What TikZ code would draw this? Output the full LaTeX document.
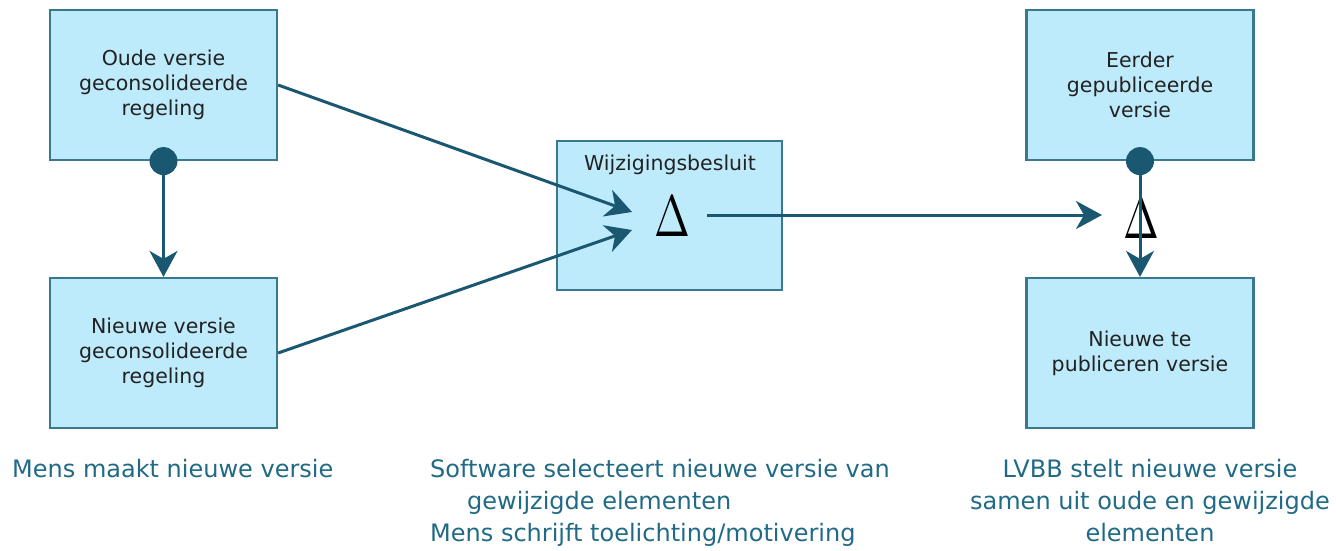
\documentclass[tikz,border=0pt]{standalone}
\usepackage{fontspec}
\usepackage{graphicx}
\setmainfont{DejaVu Sans}
\usetikzlibrary{arrows.meta}
\definecolor{boxfill}{HTML}{BEEBFB}
\definecolor{boxline}{HTML}{3A7890}
\definecolor{arr}{HTML}{1A5872}
\definecolor{capcol}{HTML}{216A86}
\definecolor{txt}{HTML}{222222}
\newcommand{\bigdelta}{\scalebox{4.3}[5.85]{$\Delta$}}
\begin{document}
\begin{tikzpicture}[x=1pt,y=-1pt,
 box/.style={draw=boxline, line width=2.2pt, fill=boxfill, minimum width=227pt, minimum height=150pt, inner sep=0pt, font=\fontsize{20.5}{25}\selectfont, text=txt, align=center},
 conn/.style={draw=arr, line width=3pt, -{Stealth[length=26pt,width=28pt,inset=8pt]}},
 dot/.style={circle, fill=arr, minimum size=28pt, inner sep=0pt},
 caption/.style={font=\fontsize{24}{32}\selectfont, text=capcol, inner sep=0pt},
 delta/.style={inner sep=0pt}]
\useasboundingbox (0,0) rectangle (1336,550);
% boxes
\node[box] (oud) at (163.5,85) {Oude versie\\geconsolideerde\\regeling};
\node[box] (nieuw) at (163.5,353) {Nieuwe versie\\geconsolideerde\\regeling};
\node[box, minimum width=225pt, minimum height=149pt] (wb) at (669.5,215.5) {};
\node[font=\fontsize{20.5}{25}\selectfont, text=txt] (wbt) at (670,165) {Wijzigingsbesluit};
\node[box] (eerder) at (1140,85) {Eerder\\gepubliceerde\\versie};
\node[box] (tepub) at (1140,353) {Nieuwe te\\publiceren versie};
% deltas
\node[delta] (d1) at (672,217) {\bigdelta};
\node[delta] (d2) at (1141,219) {\bigdelta};
\coordinate (in1) at (632,212);
\coordinate (in2) at (632,230);
\coordinate (out1) at (707,215);
\coordinate (in3) at (1102,215);
% connectors
\draw[conn] (oud.south) -- (nieuw.north);
\draw[conn] (oud.east) -- (in1);
\draw[conn] (nieuw.east) -- (in2);
\draw[conn] (out1) -- (in3);
\draw[conn] (eerder.south) -- (tepub.north);
\node[dot] (dot1) at (oud.south) {};
\node[dot] (dot2) at (eerder.south) {};
% captions
\node[caption, anchor=north west] (c1) at (12,459) {Mens maakt nieuwe versie};
\node[caption, anchor=north west, align=left] (c2) at (430,459) {Software selecteert nieuwe versie van\\\hspace*{37pt}gewijzigde elementen\\Mens schrijft toelichting/motivering};
\node[caption, anchor=north, align=center] (c3) at (1150,459) {LVBB stelt nieuwe versie\\samen uit oude en gewijzigde\\elementen};
\end{tikzpicture}
\end{document}
